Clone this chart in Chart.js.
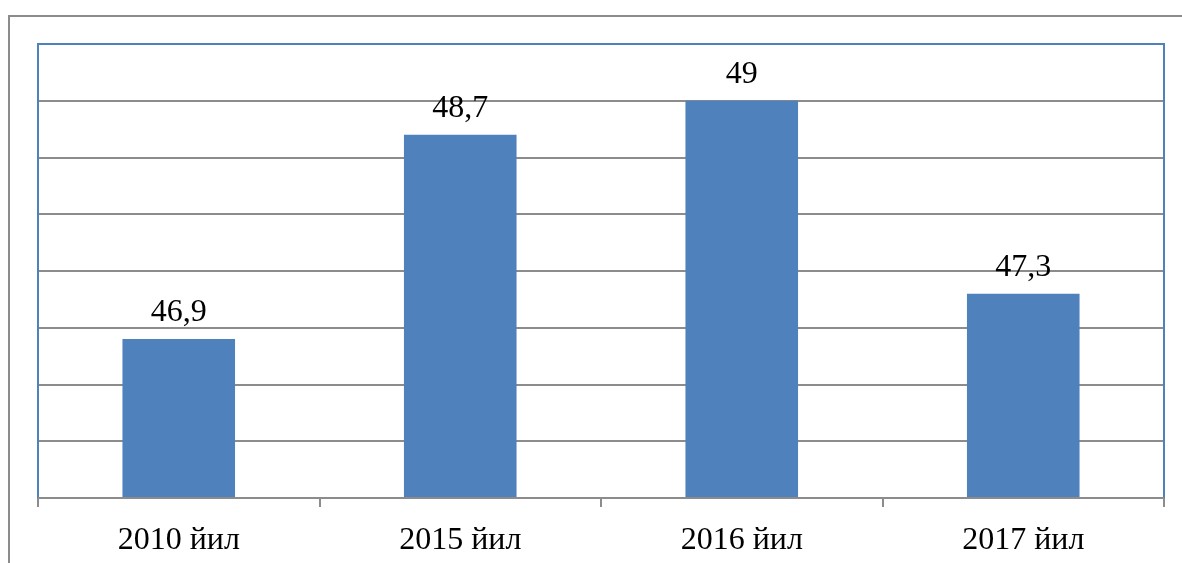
<!DOCTYPE html>
<html>
<head>
<meta charset="utf-8">
<script src="https://cdn.jsdelivr.net/npm/chart.js@4/dist/chart.umd.min.js"></script>
<style>
  html, body { margin: 0; padding: 0; background: #fff; }
  #wrap { width: 1182px; height: 563px; }
</style>
</head>
<body>
<div id="wrap"><canvas id="chart"></canvas></div>
<script>
const years = ["2010 йил", "2015 йил", "2016 йил", "2017 йил"];
const values = [46.9, 48.7, 49, 47.3];
const valueLabels = ["46,9", "48,7", "49", "47,3"];

const serif = "'Liberation Serif', 'Times New Roman', serif";

// outer frame + plot border + value labels
const decor = {
  id: "decor",
  beforeDraw(chart) {
    const ctx = chart.ctx;
    ctx.save();
    ctx.strokeStyle = "#8c8c8c";
    ctx.lineWidth = 2;
    ctx.beginPath();
    ctx.moveTo(9, 563);
    ctx.lineTo(9, 16);
    ctx.lineTo(1182, 16);
    ctx.stroke();
    ctx.restore();
  },
  afterDatasetsDraw(chart) {
    const ctx = chart.ctx;
    const a = chart.chartArea;
    ctx.save();
    ctx.strokeStyle = "#4f81bd";
    ctx.lineWidth = 2;
    ctx.beginPath();
    ctx.moveTo(a.left, a.bottom);
    ctx.lineTo(a.left, a.top);
    ctx.lineTo(a.right, a.top);
    ctx.lineTo(a.right, a.bottom);
    ctx.stroke();
    ctx.strokeStyle = "#8c8c8c";
    ctx.beginPath();
    ctx.moveTo(a.left, a.bottom);
    ctx.lineTo(a.right, a.bottom);
    ctx.stroke();

    ctx.fillStyle = "#000";
    ctx.font = "32px " + serif;
    ctx.textAlign = "center";
    ctx.textBaseline = "alphabetic";
    chart.getDatasetMeta(0).data.forEach((bar, i) => {
      ctx.fillText(valueLabels[i], bar.x, bar.y - 18);
    });
    ctx.restore();
  }
};

new Chart(document.getElementById("chart").getContext("2d"), {
  type: "bar",
  data: {
    labels: years,
    datasets: [{
      data: values,
      backgroundColor: "#4f81bd",
      categoryPercentage: 1,
      barPercentage: 0.4
    }]
  },
  options: {
    responsive: true,
    maintainAspectRatio: false,
    animation: false,
    layout: {
      padding: { left: 38, right: 18, top: 44, bottom: 0 }
    },
    plugins: {
      legend: { display: false },
      tooltip: { enabled: false }
    },
    scales: {
      x: {
        afterFit(scale) { scale.height = 65; },
        grid: {
          offset: true,
          drawOnChartArea: false,
          color: "#8c8c8c",
          lineWidth: 2,
          tickLength: 9
        },
        border: { color: "#8c8c8c", width: 2 },
        ticks: {
          color: "#000",
          padding: 14,
          font: { family: serif, size: 32 }
        }
      },
      y: {
        min: 45.5,
        max: 49.5,
        grid: {
          color: "#8c8c8c",
          lineWidth: 2,
          drawTicks: false
        },
        border: { display: false },
        ticks: { display: false, stepSize: 0.5 }
      }
    }
  },
  plugins: [decor]
});
</script>
</body>
</html>
